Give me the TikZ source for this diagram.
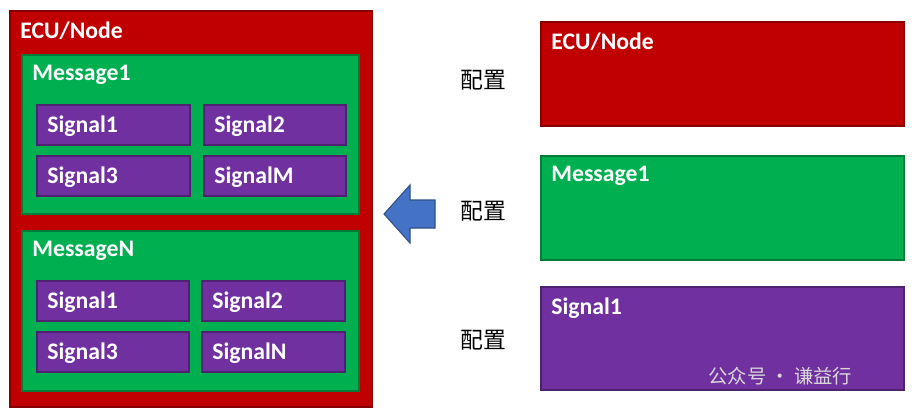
\documentclass[tikz,border=0pt]{standalone}
\usepackage{fontspec}
\setmainfont{Carlito}
\newfontfamily\cjk{Noto Sans CJK SC}
\definecolor{cred}{HTML}{C00000}
\definecolor{cgreen}{HTML}{00B050}
\definecolor{cpurple}{HTML}{7030A0}
\definecolor{cblue}{HTML}{4472C4}
\begin{document}
\begin{tikzpicture}[x=0.02cm,y=-0.02cm,
  box/.style={draw=#1!70!black,line width=0.6pt,fill=#1},
  lbl/.style={anchor=north west,text=white,font=\fontsize{13.5pt}{15pt}\selectfont\bfseries,inner sep=0pt},
  sig/.style={anchor=west,text=white,font=\fontsize{13.5pt}{15pt}\selectfont\bfseries,inner sep=0pt},
  cfg/.style={font=\cjk\fontsize{13pt}{14pt}\selectfont,inner sep=0pt}]
\useasboundingbox (0,0) rectangle (919,414);
\fill[white] (0,0) rectangle (919,414);
% left
\draw[box=cred] (10,11) rectangle (372,407);
\node[lbl] (t0) at (20,21) {ECU/Node};
\draw[box=cgreen] (22,55) rectangle (359,214);
\node[lbl] (t1) at (32,65) {Message1};
\draw[box=cgreen] (22,231) rectangle (359,391);
\node[lbl] (t2) at (32,241) {MessageN};
\foreach \xa/\xb/\ya/\yb/\t [count=\i] in {37/190/105/145/Signal1,204/346/105/145/Signal2,37/190/156/196/Signal3,204/346/156/196/SignalM,37/189/281/321/Signal1,202/345/281/321/Signal2,37/189/332/372/Signal3,202/345/332/372/SignalN}{
  \draw[box=cpurple] (\xa,\ya) rectangle (\xb,\yb);
  \node[sig] (s\i) at (\xa+10,{(\ya+\yb)/2+1}) {\t};
}
% arrow
\draw[fill=cblue,draw=cblue!70!black,line width=0.6pt] (435,200) -- (410,200) -- (410,185) -- (384,214) -- (410,243) -- (410,228) -- (435,228) -- cycle;
% right
\draw[box=cred] (541,22) rectangle (904,126);
\node[lbl] (r0) at (551,32) {ECU/Node};
\draw[box=cgreen] (541,156) rectangle (904,260);
\node[lbl] (r1) at (551,166) {Message1};
\draw[box=cpurple] (541,287) rectangle (904,390);
\node[lbl] (r2) at (551,297) {Signal1};
\node[cfg] (c0) at (483,80) {配置};
\node[cfg] (c1) at (483,211) {配置};
\node[cfg] (c2) at (483,340) {配置};
\node[anchor=west,text=white!85!black,font=\cjk\fontsize{11pt}{12pt}\selectfont,inner sep=0pt] (wm) at (708,376) {公众号 · 谦益行};
\end{tikzpicture}
\end{document}
